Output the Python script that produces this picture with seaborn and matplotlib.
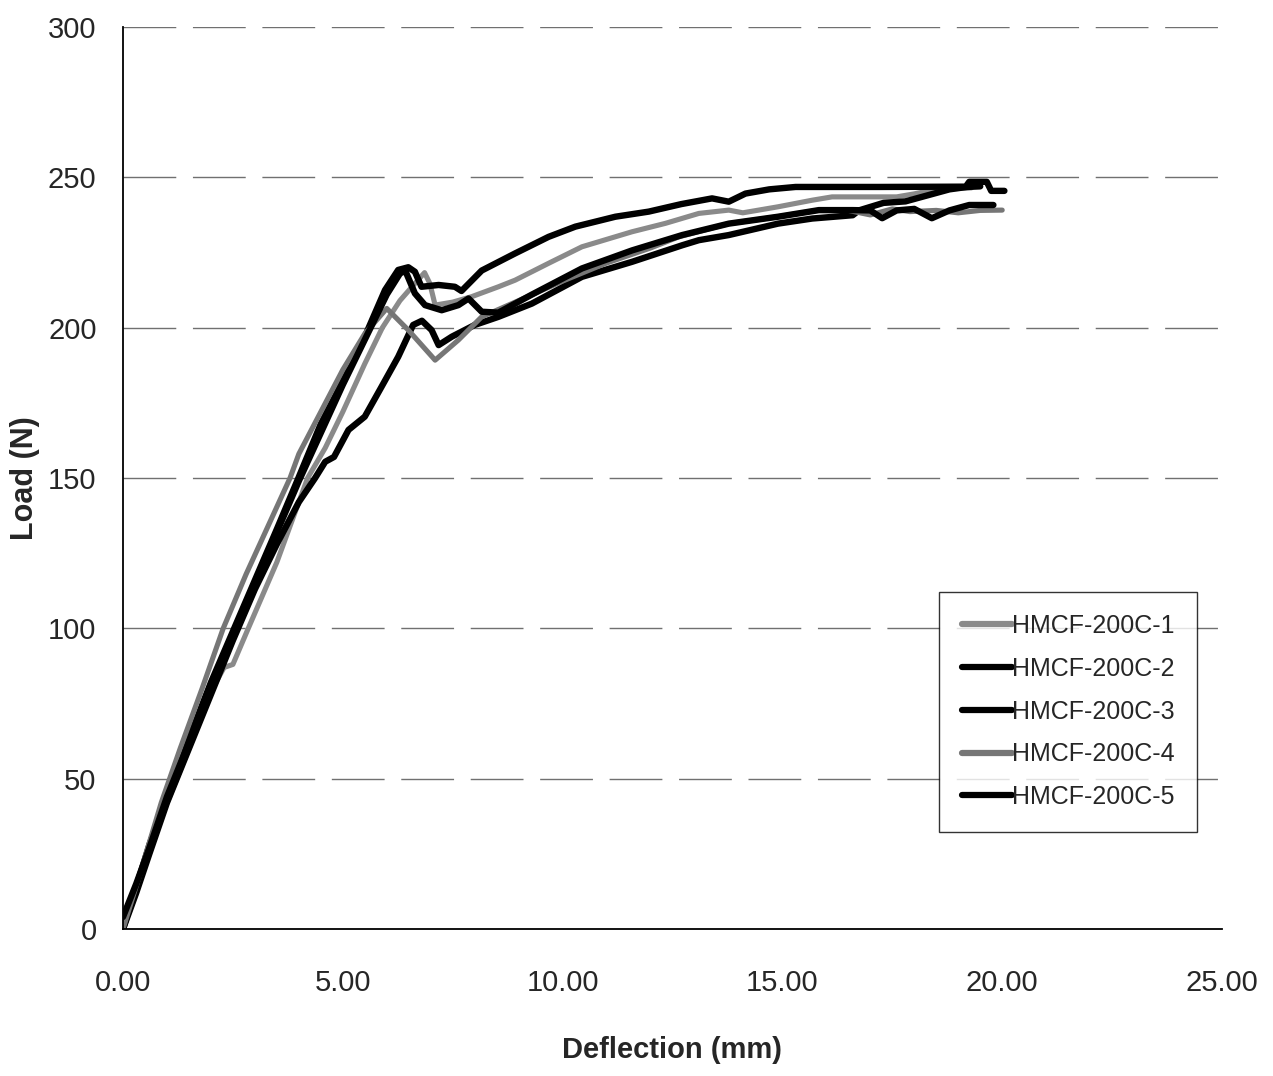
import numpy as np
import pandas as pd
import matplotlib
matplotlib.use("Agg")
import matplotlib.pyplot as plt
import seaborn as sns
from matplotlib import font_manager

series_names = ["HMCF-200C-1", "HMCF-200C-2", "HMCF-200C-3", "HMCF-200C-4", "HMCF-200C-5"]

x1 = [0, 0.3, 0.5, 0.72, 0.82, 0.95, 1.5, 2.0, 2.3, 2.5, 2.85, 3.5, 4.2, 4.6, 5.0, 5.5, 5.9, 6.3, 6.64, 6.86,
      6.98, 7.1, 7.5, 7.93, 8.54, 8.92, 9.68, 10.44, 11.58, 12.34, 13.1, 13.78, 14.1, 14.9, 15.68, 16.13,
      17.6, 18.0, 18.5, 19.3]
y1 = [0, 12, 22, 34, 38, 40, 60, 79, 87, 88, 100, 122, 150, 160, 172, 188, 200, 209, 214.7, 218.3,
      214.7, 207.5, 208.5, 210.3, 213.6, 215.8, 221.4, 226.9, 231.9, 234.7, 238, 239.1, 238.2, 240.2, 242.4, 243.5,
      243.5, 244.5, 246, 246.5]

x2 = [0, 0.3, 0.6, 0.9, 1.2, 1.6, 2.0, 2.5, 3.0, 3.5, 3.99, 4.5, 5.13, 5.5, 5.96, 6.26, 6.49, 6.64, 6.79,
      7.18, 7.55, 7.7, 8.16, 8.92, 9.68, 10.29, 11.2, 11.96, 12.7, 13.4, 13.78, 14.16, 14.7, 15.3, 17.2,
      19.17, 19.25, 19.65, 19.75, 20.05]
y2 = [0, 14, 28, 40, 53, 67, 82, 99, 116, 133, 150, 168, 185.9, 197, 212.5, 219.2, 220.1, 218.6, 213.6,
      214.2, 213.6, 212.2, 219, 224.7, 230.2, 233.6, 236.9, 238.6, 241.1, 243, 241.9, 244.6, 246, 246.8, 246.8,
      246.9, 248.5, 248.5, 245.5, 245.5]

x3 = [0, 0.3, 0.6, 1.0, 1.5, 2.0, 2.5, 3.0, 3.5, 4.0, 4.37, 4.6, 4.8, 5.13, 5.5, 5.88, 6.26, 6.6, 6.8,
      7.02, 7.18, 7.48, 8.0, 8.54, 9.3, 10.44, 11.58, 12.72, 13.1, 13.78, 14.9, 15.68, 16.6, 16.74, 17.3,
      17.8, 18.3, 18.8, 19.2, 19.5]
y3 = [0, 12, 25, 42, 60, 78, 96, 113, 128, 142, 150, 155.4, 157, 166, 170.4, 180.3, 190.3, 200.9, 202.3,
      199.2, 194.2, 197, 200.9, 203.6, 208, 216.9, 221.9, 227.4, 229.1, 230.8, 234.6, 236.3, 237.4, 239, 241.5,
      242, 244, 246, 246.8, 247]

x4 = [0, 0.4, 0.87, 1.3, 1.8, 2.28, 2.8, 3.3, 3.8, 4.0, 4.5, 5.0, 5.5, 6.0, 6.49, 7.1, 7.63, 8.16, 9.0,
      10.0, 11.0, 12.0, 12.64, 13.78, 14.9, 15.83, 16.5, 17.0, 17.5, 17.9, 18.5, 19.0, 19.5, 20.0]
y4 = [0, 19, 42, 60, 80, 100, 118, 134, 150, 158, 172, 186, 198, 206.4, 199.2, 189.2, 195.9, 203.6, 209,
      215.5, 221.5, 226.5, 230.2, 234.6, 236.9, 239.1, 239, 237.5, 239.5, 238.6, 239, 238.2, 239, 239.1]

x5 = [0, 0.3, 0.6, 1.0, 1.5, 2.0, 2.5, 3.0, 3.5, 4.0, 4.5, 5.0, 5.5, 6.0, 6.3, 6.42, 6.64, 6.87, 7.25,
      7.63, 7.86, 8.16, 8.54, 9.3, 10.44, 11.58, 12.72, 13.78, 14.9, 15.83, 16.6, 17.0, 17.27, 17.6, 18.0,
      18.4, 18.8, 19.25, 19.8]
y5 = [4, 15, 27, 44, 62, 80, 98, 115, 132, 149, 165, 181, 196, 211, 218, 219, 211.4, 207.5, 205.8,
      207.5, 209.7, 205.3, 205, 211, 219.7, 225.7, 230.8, 234.6, 236.9, 239.1, 239.1, 239, 236.4, 239, 239.5,
      236.4, 239, 240.8, 240.8]

x_ticks = [0, 5, 10, 15, 20, 25]
y_ticks = [0, 50, 100, 150, 200, 250, 300]

frames = []
for name, xs, ys in zip(series_names, [x1, x2, x3, x4, x5], [y1, y2, y3, y4, y5]):
    frames.append(pd.DataFrame({"Deflection": xs, "Load": ys, "Specimen": name}))
df = pd.concat(frames, ignore_index=True)

sns.set_style("white")
avail = {f.name for f in font_manager.fontManager.ttflist}
narrow = "Liberation Sans Narrow" if "Liberation Sans Narrow" in avail else "Liberation Sans"
plt.rcParams["font.family"] = [narrow, "DejaVu Sans"]

palette = {"HMCF-200C-1": "#8a8a8a", "HMCF-200C-2": "#000000", "HMCF-200C-3": "#000000",
           "HMCF-200C-4": "#767676", "HMCF-200C-5": "#000000"}
widths = {"HMCF-200C-1": 3.7, "HMCF-200C-2": 4.6, "HMCF-200C-3": 4.6,
          "HMCF-200C-4": 3.7, "HMCF-200C-5": 4.6}

fig = plt.figure(figsize=(12.73, 10.76), dpi=100)
ax = fig.add_axes([123 / 1273, 1 - 929 / 1076, (1222 - 123) / 1273, (929 - 27) / 1076])

for name in series_names:
    sub = df[df["Specimen"] == name]
    sns.lineplot(data=sub, x="Deflection", y="Load", color=palette[name], lw=widths[name],
                 sort=False, estimator=None, ax=ax, label=name, solid_capstyle="round",
                 solid_joinstyle="round")

ax.set_xlim(0, 25)
ax.set_ylim(0, 300)
ax.set_xticks(x_ticks)
ax.set_xticklabels([f"{v:.2f}" for v in x_ticks])
ax.set_yticks(y_ticks)
ax.set_yticklabels([str(v) for v in y_ticks])

for v in y_ticks[1:]:
    ax.axhline(v, color="#707070", lw=1.0, dashes=(38, 12), zorder=0)

for s in ["top", "right"]:
    ax.spines[s].set_visible(False)
for s in ["left", "bottom"]:
    ax.spines[s].set_color("black")
    ax.spines[s].set_linewidth(1.3)

ax.tick_params(axis="both", direction="out", length=7, width=1.2, color="black",
               labelsize=21, pad=12)
ax.tick_params(axis="x", pad=22)

ax.set_xlabel("Deflection (mm)", fontsize=21, fontweight="bold", labelpad=28)
ax.set_ylabel("Load (N)", fontsize=22, fontweight="bold", labelpad=6)

leg = ax.legend(loc="upper right", bbox_to_anchor=(0.977, 0.374),
                frameon=True, fancybox=False, edgecolor="black", fontsize=18,
                handlelength=2.0, handletextpad=0.0, borderpad=0.9, labelspacing=0.75,
                borderaxespad=0)
leg.get_frame().set_linewidth(1.0)
for h in leg.get_lines():
    h.set_linewidth(4.5)

fig.savefig("out.png", dpi=100, facecolor="white")
